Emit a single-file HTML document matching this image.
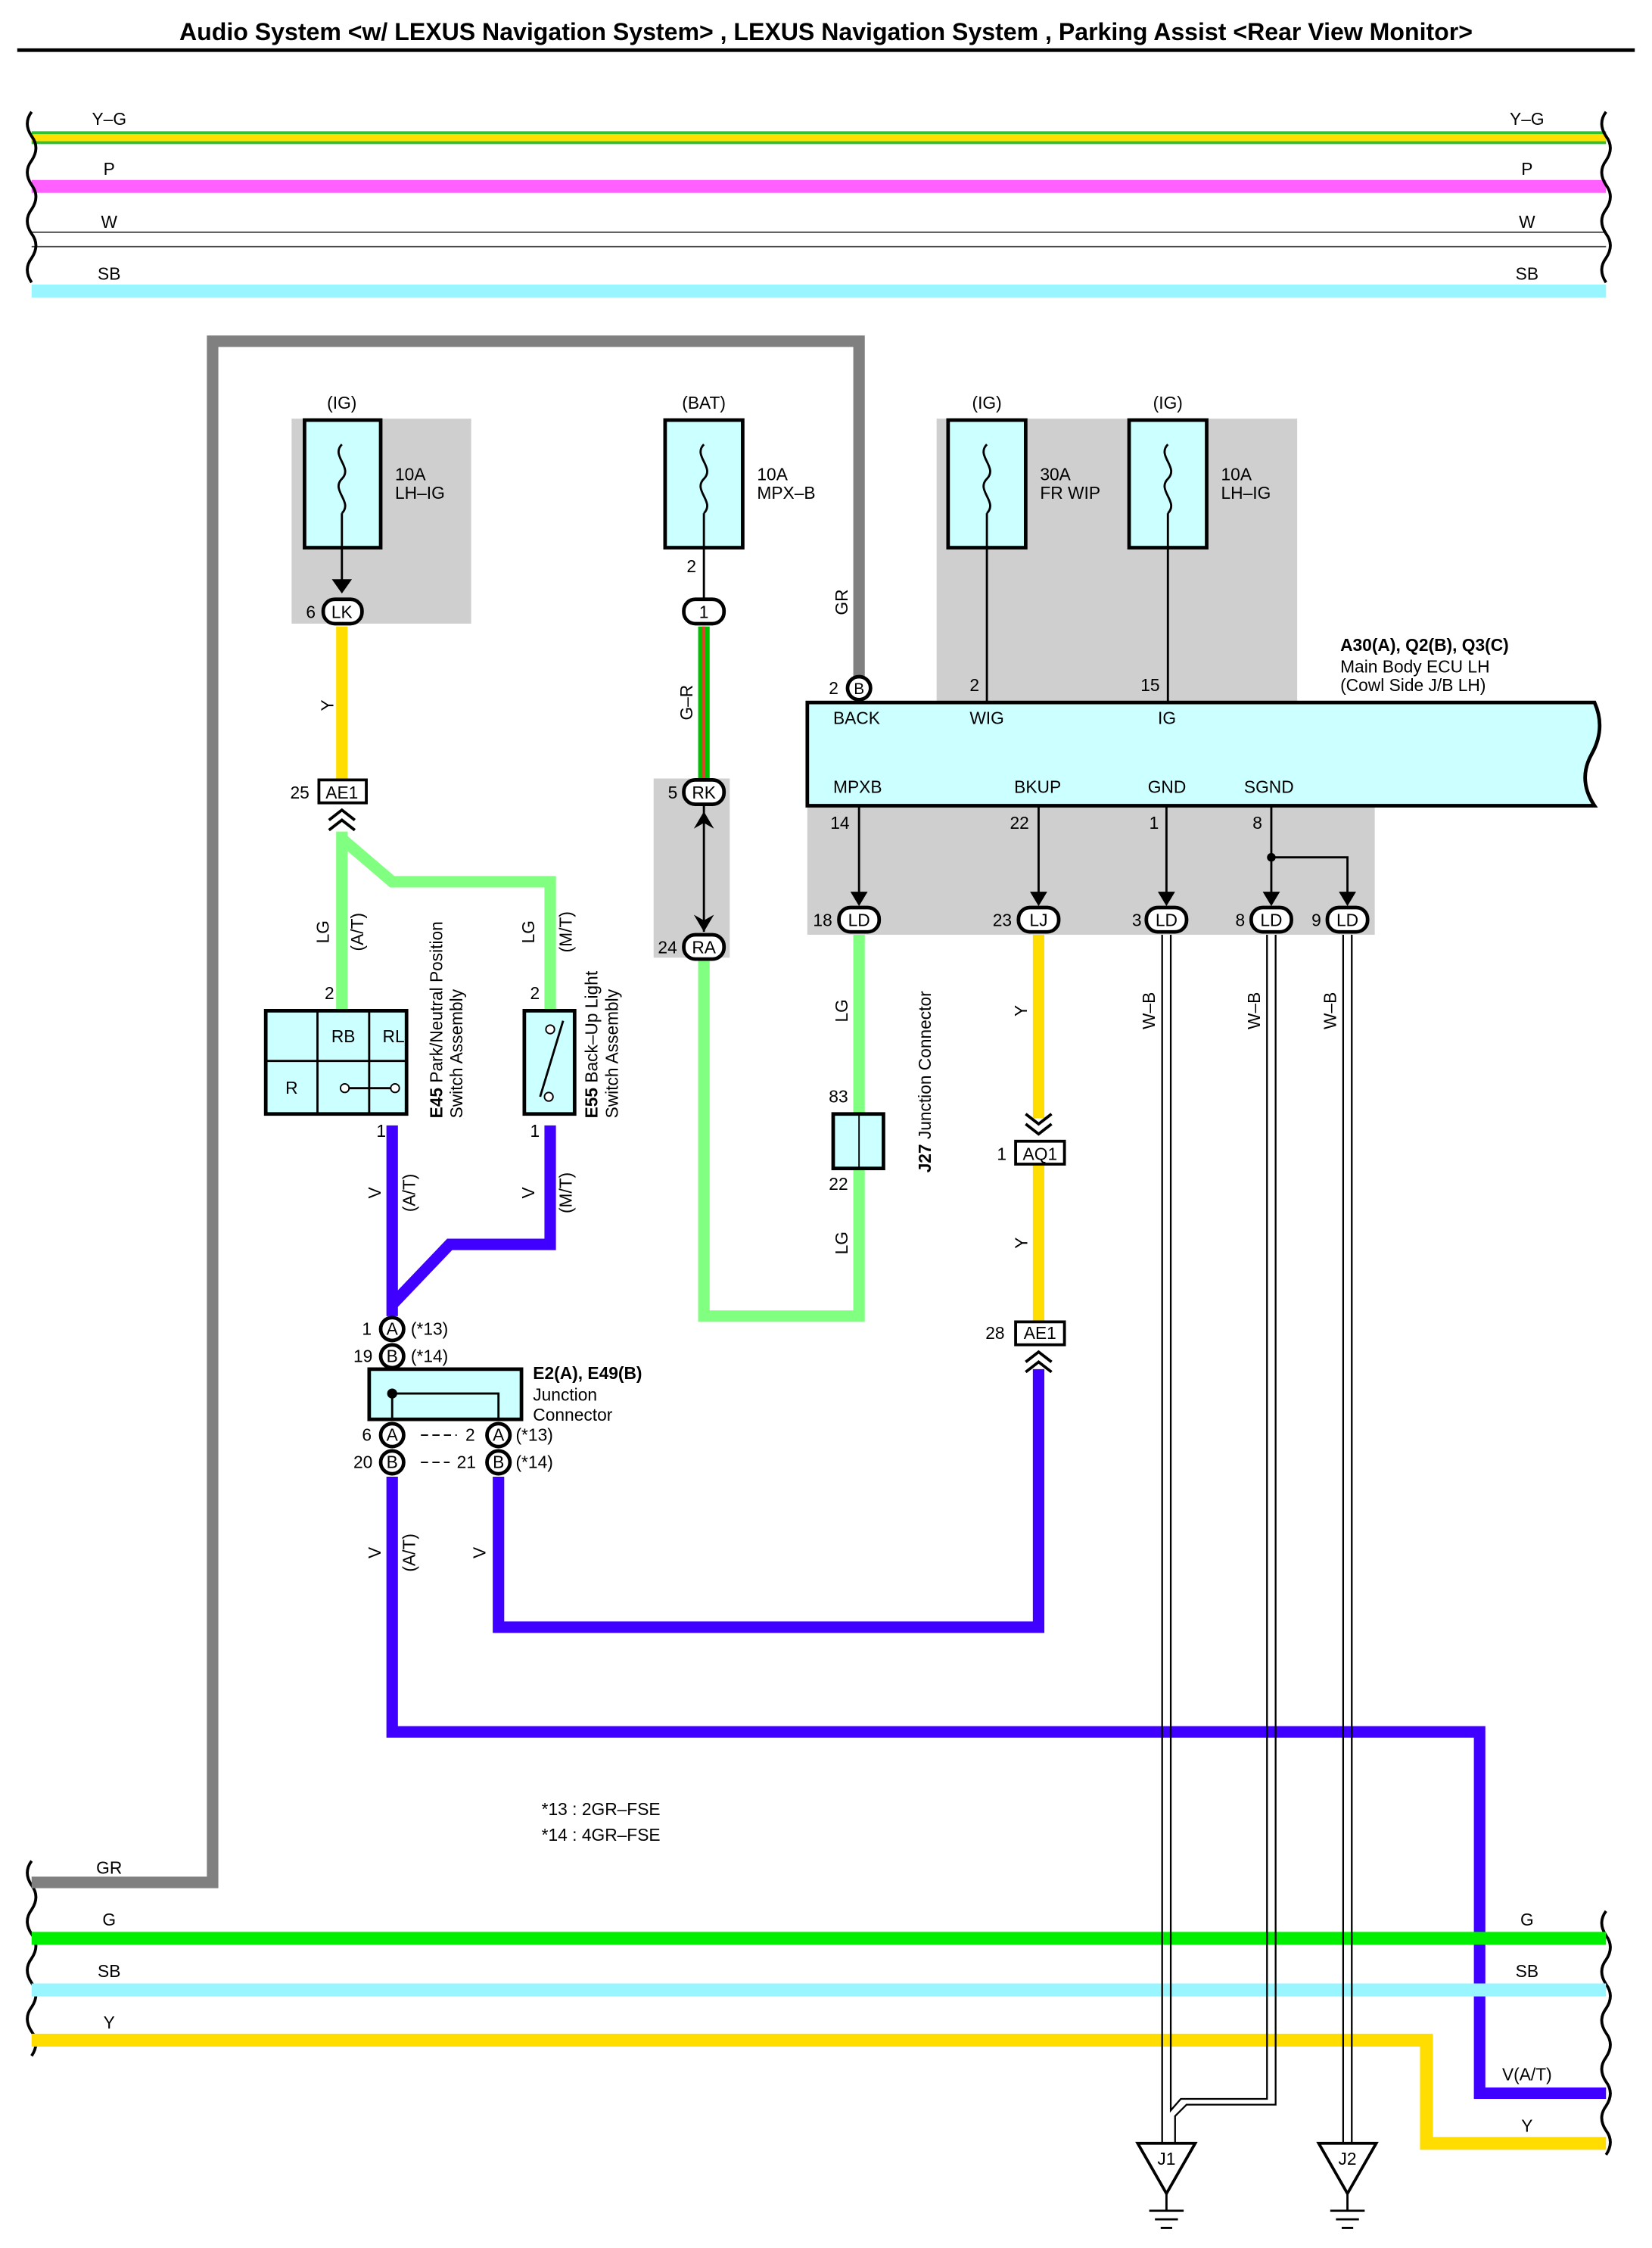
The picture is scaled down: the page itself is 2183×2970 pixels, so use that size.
<!DOCTYPE html>
<html><head><meta charset="utf-8"><style>html,body{margin:0;padding:0;background:#fff}svg{display:block}text{font-family:"Liberation Sans",sans-serif;font-size:12px;fill:#000}</style></head><body>
<svg width="2183" height="2970" viewBox="0 0 1150 1568" preserveAspectRatio="none" xmlns="http://www.w3.org/2000/svg">
<text x="575" y="28" text-anchor="middle" style="font-size:16.9px;font-weight:bold">Audio System &lt;w/ LEXUS Navigation System&gt; , LEXUS Navigation System , Parking Assist &lt;Rear View Monitor&gt;</text>
<line x1="12" y1="35" x2="1138" y2="35" stroke="#000" stroke-width="2.5"/>
<!-- top bus -->
<line x1="22" y1="96" x2="1118" y2="96" stroke="#30c030" stroke-width="9"/>
<line x1="22" y1="96" x2="1118" y2="96" stroke="#ffe000" stroke-width="5"/>
<line x1="22" y1="130" x2="1118" y2="130" stroke="#ff60ff" stroke-width="9"/>
<line x1="22" y1="162" x2="1118" y2="162" stroke="#444" stroke-width="1"/>
<line x1="22" y1="172" x2="1118" y2="172" stroke="#444" stroke-width="1"/>
<line x1="22" y1="203" x2="1118" y2="203" stroke="#99f5ff" stroke-width="9"/>
<g text-anchor="middle"><text x="76" y="87">Y–G</text><text x="76" y="122">P</text><text x="76" y="159">W</text><text x="76" y="195">SB</text>
<text x="1063" y="87">Y–G</text><text x="1063" y="122">P</text><text x="1063" y="159">W</text><text x="1063" y="195">SB</text>
<text x="76" y="1307">GR</text><text x="76" y="1343">G</text><text x="76" y="1379">SB</text><text x="76" y="1415">Y</text>
<text x="1063" y="1343">G</text><text x="1063" y="1379">SB</text><text x="1063" y="1451">V(A/T)</text><text x="1063" y="1487">Y</text></g>
<g fill="none" stroke="#000" stroke-width="2">
<path d="M22 78 q-6 8 0 17 q6 8 0 17 q-6 8 0 17 q6 8 0 17 q-6 8 0 17 q6 8 0 17 q-6 8 0 17"/>
<path d="M1118 78 q-6 8 0 17 q6 8 0 17 q-6 8 0 17 q6 8 0 17 q-6 8 0 17 q6 8 0 17 q-6 8 0 17"/>
<path d="M22 1298 q-6 8 0 17 q6 8 0 17 q-6 8 0 17 q6 8 0 17 q-6 8 0 17 q6 8 0 17 q-6 8 0 17 q6 8 0 17"/>
<path d="M1118 1333 q-6 8 0 17 q6 8 0 17 q-6 8 0 17 q6 8 0 17 q-6 8 0 17 q6 8 0 17 q-6 8 0 17 q6 8 0 17 q-6 8 0 17 q6 8 0 17"/>
</g>
<!-- gray bgs -->
<rect x="203" y="292" width="125" height="143" fill="#cfcfcf"/>
<rect x="652" y="292" width="251" height="198" fill="#cfcfcf"/>
<rect x="455" y="543" width="53" height="125" fill="#cfcfcf"/>
<rect x="562" y="562" width="395" height="90" fill="#cfcfcf"/>
<!-- GR -->
<path d="M598 472 V238 H148 V1313 H22" fill="none" stroke="#808080" stroke-width="8"/>
<text x="590" y="420" transform="rotate(-90 590 420)" text-anchor="middle">GR</text>
<!-- fuses -->
<g fill="#ccffff" stroke="#000" stroke-width="2.5">
<rect x="212" y="293" width="53" height="89"/><rect x="463" y="293" width="54" height="89"/>
<rect x="660" y="293" width="54" height="89"/><rect x="786" y="293" width="54" height="89"/></g>
<g fill="none" stroke="#000" stroke-width="1.5">
<path d="M238 310 c-8 8 8 16 0 24 c-8 8 8 16 0 24"/><path d="M490 310 c-8 8 8 16 0 24 c-8 8 8 16 0 24"/>
<path d="M687 310 c-8 8 8 16 0 24 c-8 8 8 16 0 24"/><path d="M813 310 c-8 8 8 16 0 24 c-8 8 8 16 0 24"/>
<line x1="238" y1="358" x2="238" y2="410"/><line x1="490" y1="358" x2="490" y2="420"/>
<line x1="687" y1="358" x2="687" y2="490"/><line x1="813" y1="358" x2="813" y2="490"/></g>
<g text-anchor="middle"><text x="238" y="285">(IG)</text><text x="490" y="285">(BAT)</text><text x="687" y="285">(IG)</text><text x="813" y="285">(IG)</text></g>
<text x="275" y="335">10A</text><text x="275" y="348">LH–IG</text>
<text x="527" y="335">10A</text><text x="527" y="348">MPX–B</text>
<text x="724" y="335">30A</text><text x="724" y="348">FR WIP</text>
<text x="850" y="335">10A</text><text x="850" y="348">LH–IG</text>
<path d="M231 404 l7 10 l7 -10 z" fill="#000"/>
<!-- LK -->
<line x1="238" y1="437" x2="238" y2="545" stroke="#ffdd00" stroke-width="8"/>
<g fill="#fff" stroke="#000" stroke-width="2.5"><rect x="225" y="418" width="27" height="17" rx="8"/><rect x="476" y="418" width="28" height="17" rx="8"/></g>
<text x="238" y="431" text-anchor="middle">LK</text><text x="213" y="431">6</text>
<text x="490" y="431" text-anchor="middle">1</text><text x="478" y="399">2</text>
<text x="232" y="492" transform="rotate(-90 232 492)" text-anchor="middle">Y</text>
<!-- LG -->
<g fill="none" stroke="#80ff80" stroke-width="8"><path d="M238 580 V705"/><path d="M238 585 L273 615 H383 V705"/>
<path d="M490 670 V918 H598 V815"/><path d="M598 652 V777"/></g>
<rect x="222" y="544" width="33" height="16" fill="#fff" stroke="#000" stroke-width="2"/><text x="238" y="557" text-anchor="middle">AE1</text><text x="202" y="557">25</text>
<path d="M229 572 l9 -7 l9 7 M229 579 l9 -7 l9 7" fill="none" stroke="#000" stroke-width="2"/>
<text x="229" y="650" transform="rotate(-90 229 650)" text-anchor="middle">LG</text><text x="253" y="650" transform="rotate(-90 253 650)" text-anchor="middle">(A/T)</text>
<text x="372" y="650" transform="rotate(-90 372 650)" text-anchor="middle">LG</text><text x="398" y="650" transform="rotate(-90 398 650)" text-anchor="middle">(M/T)</text>
<text x="226" y="697">2</text><text x="369" y="697">2</text>
<!-- E45 -->
<rect x="185" y="705" width="98" height="72" fill="#ccffff" stroke="#000" stroke-width="2.5"/>
<g stroke="#000" stroke-width="1.5" fill="none"><line x1="221" y1="705" x2="221" y2="777"/><line x1="257" y1="705" x2="257" y2="777"/><line x1="185" y1="740" x2="283" y2="740"/><line x1="240" y1="759" x2="275" y2="759"/></g>
<circle cx="240" cy="759" r="3" fill="#fff" stroke="#000"/><circle cx="275" cy="759" r="3" fill="#fff" stroke="#000"/>
<text x="239" y="727" text-anchor="middle">RB</text><text x="274" y="727" text-anchor="middle">RL</text><text x="203" y="763" text-anchor="middle">R</text>
<rect x="365" y="705" width="35" height="72" fill="#ccffff" stroke="#000" stroke-width="2.5"/>
<path d="M376 765 L392 712" stroke="#000" stroke-width="1.5"/><circle cx="382" cy="765" r="3" fill="#fff" stroke="#000"/><circle cx="383" cy="718" r="3" fill="#fff" stroke="#000"/>
<g style="font-size:12px"><text transform="translate(308 780) rotate(-90)"><tspan style="font-weight:bold">E45</tspan> Park/Neutral Position</text><text transform="translate(322 780) rotate(-90)">     Switch Assembly</text>
<text transform="translate(416 780) rotate(-90)"><tspan style="font-weight:bold">E55</tspan> Back–Up Light</text><text transform="translate(430 780) rotate(-90)">     Switch Assembly</text>
<text transform="translate(648 818) rotate(-90)"><tspan style="font-weight:bold">J27</tspan> Junction Connector</text></g>
<text x="262" y="793">1</text><text x="369" y="793">1</text>
<!-- V wires -->
<g fill="none" stroke="#4000ff" stroke-width="8"><path d="M273 785 V918"/><path d="M383 785 V868 H313 L273 910"/>
<path d="M273 1030 V1208 H1030 V1460 H1118"/><path d="M347 1030 V1135 H723 V955"/></g>
<text x="265" y="832" transform="rotate(-90 265 832)" text-anchor="middle">V</text><text x="289" y="832" transform="rotate(-90 289 832)" text-anchor="middle">(A/T)</text>
<text x="372" y="832" transform="rotate(-90 372 832)" text-anchor="middle">V</text><text x="398" y="832" transform="rotate(-90 398 832)" text-anchor="middle">(M/T)</text>
<text x="265" y="1083" transform="rotate(-90 265 1083)" text-anchor="middle">V</text><text x="289" y="1083" transform="rotate(-90 289 1083)" text-anchor="middle">(A/T)</text>
<text x="338" y="1083" transform="rotate(-90 338 1083)" text-anchor="middle">V</text>
<!-- E2 -->
<rect x="257" y="955" width="106" height="35" fill="#ccffff" stroke="#000" stroke-width="2.5"/>
<path d="M273 990 V972 H347 V990" fill="none" stroke="#000" stroke-width="1.5"/><circle cx="273" cy="972" r="3.5" fill="#000"/>
<g fill="#fff" stroke="#000" stroke-width="2.5"><circle cx="273" cy="927" r="8"/><circle cx="273" cy="946" r="8"/><circle cx="273" cy="1001" r="8"/><circle cx="273" cy="1020" r="8"/><circle cx="347" cy="1001" r="8"/><circle cx="347" cy="1020" r="8"/></g>
<g text-anchor="middle" style="font-size:11px"><text x="273" y="931">A</text><text x="273" y="950">B</text><text x="273" y="1005">A</text><text x="273" y="1024">B</text><text x="347" y="1005">A</text><text x="347" y="1024">B</text></g>
<text x="252" y="931">1</text><text x="246" y="950">19</text><text x="252" y="1005">6</text><text x="246" y="1024">20</text><text x="324" y="1005">2</text><text x="318" y="1024">21</text>
<text x="286" y="931">(*13)</text><text x="286" y="950">(*14)</text><text x="359" y="1005">(*13)</text><text x="359" y="1024">(*14)</text>
<path d="M293 1001 H318 M293 1020 H313" stroke="#000" stroke-dasharray="5 3"/>
<text x="371" y="962" style="font-weight:bold">E2(A), E49(B)</text><text x="371" y="977">Junction</text><text x="371" y="991">Connector</text>
<!-- G-R -->
<line x1="490" y1="437" x2="490" y2="545" stroke="#00c000" stroke-width="8"/><line x1="490" y1="437" x2="490" y2="545" stroke="#ff3030" stroke-width="2"/>
<text x="482" y="490" transform="rotate(-90 482 490)" text-anchor="middle">G–R</text>
<line x1="490" y1="562" x2="490" y2="650" stroke="#000" stroke-width="1.5"/>
<path d="M483 578 l7 -12 l7 12 l-7 -4 z M483 638 l7 12 l7 -12 l-7 4 z" fill="#000"/>
<g fill="#fff" stroke="#000" stroke-width="2.5"><rect x="476" y="544" width="28" height="17" rx="8"/><rect x="476" y="652" width="28" height="17" rx="8"/></g>
<text x="490" y="557" text-anchor="middle">RK</text><text x="465" y="557">5</text><text x="490" y="665" text-anchor="middle">RA</text><text x="458" y="665">24</text>
<!-- J27 -->
<rect x="580" y="777" width="35" height="38" fill="#ccffff" stroke="#000" stroke-width="2.5"/><line x1="598" y1="777" x2="598" y2="815" stroke="#000"/>
<text x="577" y="769">83</text><text x="577" y="830">22</text>
<text x="590" y="705" transform="rotate(-90 590 705)" text-anchor="middle">LG</text><text x="590" y="867" transform="rotate(-90 590 867)" text-anchor="middle">LG</text>
<!-- ECU -->
<path d="M562 490 H1110 q8 18 -2 36 q-10 18 2 36 H562 Z" fill="#ccffff" stroke="#000" stroke-width="2.5"/>
<text x="933" y="454" style="font-weight:bold">A30(A), Q2(B), Q3(C)</text><text x="933" y="469">Main Body ECU LH</text><text x="933" y="482">(Cowl Side J/B LH)</text>
<circle cx="598" cy="480" r="8" fill="#fff" stroke="#000" stroke-width="2.5"/><text x="598" y="484" text-anchor="middle" style="font-size:11px">B</text><text x="577" y="484">2</text>
<text x="675" y="482">2</text><text x="794" y="482">15</text>
<text x="580" y="505">BACK</text><text x="675" y="505">WIG</text><text x="806" y="505">IG</text>
<text x="580" y="553">MPXB</text><text x="706" y="553">BKUP</text><text x="799" y="553">GND</text><text x="866" y="553">SGND</text>
<text x="578" y="578">14</text><text x="703" y="578">22</text><text x="800" y="578">1</text><text x="872" y="578">8</text>
<g stroke="#000" stroke-width="1.5" fill="none"><path d="M598 562 V630"/><path d="M723 562 V630"/><path d="M812 562 V630"/><path d="M885 562 V630 M885 598 H938 V630"/></g>
<circle cx="885" cy="598" r="3" fill="#000"/>
<g fill="#000"><path d="M592 622 l6 10 l6 -10z"/><path d="M717 622 l6 10 l6 -10z"/><path d="M806 622 l6 10 l6 -10z"/><path d="M879 622 l6 10 l6 -10z"/><path d="M932 622 l6 10 l6 -10z"/></g>
<!-- Y wire -->
<line x1="723" y1="652" x2="723" y2="780" stroke="#ffdd00" stroke-width="8"/><line x1="723" y1="812" x2="723" y2="922" stroke="#ffdd00" stroke-width="8"/>
<text x="715" y="705" transform="rotate(-90 715 705)" text-anchor="middle">Y</text><text x="715" y="867" transform="rotate(-90 715 867)" text-anchor="middle">Y</text>
<path d="M714 777 l9 7 l9 -7 M714 784 l9 7 l9 -7" fill="none" stroke="#000" stroke-width="2"/>
<rect x="707" y="796" width="34" height="16" fill="#fff" stroke="#000" stroke-width="2"/><text x="724" y="809" text-anchor="middle">AQ1</text><text x="694" y="809">1</text>
<rect x="707" y="922" width="34" height="16" fill="#fff" stroke="#000" stroke-width="2"/><text x="724" y="934" text-anchor="middle">AE1</text><text x="686" y="934">28</text>
<path d="M714 950 l9 -7 l9 7 M714 957 l9 -7 l9 7" fill="none" stroke="#000" stroke-width="2"/>
<!-- bottom bus -->
<line x1="22" y1="1352" x2="1118" y2="1352" stroke="#00ee00" stroke-width="9"/>
<line x1="22" y1="1388" x2="1118" y2="1388" stroke="#99f5ff" stroke-width="9"/>
<path d="M22 1423 H993 V1495 H1118" fill="none" stroke="#ffdd00" stroke-width="9"/>
<!-- W-B -->
<g fill="none" stroke="#000" stroke-width="1.2">
<path d="M809 652 V1495 M815 652 V1472 L822 1464 H882 V652"/><path d="M888 652 V1468 H826 L818 1476 V1495"/>
<path d="M935 652 V1495 M941 652 V1495"/></g>
<text x="804" y="705" transform="rotate(-90 804 705)" text-anchor="middle">W–B</text><text x="877" y="705" transform="rotate(-90 877 705)" text-anchor="middle">W–B</text><text x="930" y="705" transform="rotate(-90 930 705)" text-anchor="middle">W–B</text>
<g fill="#fff" stroke="#000" stroke-width="2.5"><rect x="584" y="633" width="28" height="17" rx="8"/><rect x="709" y="633" width="28" height="17" rx="8"/><rect x="798" y="633" width="28" height="17" rx="8"/><rect x="871" y="633" width="28" height="17" rx="8"/><rect x="924" y="633" width="28" height="17" rx="8"/></g>
<g text-anchor="middle"><text x="598" y="646">LD</text><text x="723" y="646">LJ</text><text x="812" y="646">LD</text><text x="885" y="646">LD</text><text x="938" y="646">LD</text></g>
<text x="566" y="646">18</text><text x="691" y="646">23</text><text x="788" y="646">3</text><text x="860" y="646">8</text><text x="913" y="646">9</text>
<!-- grounds -->
<g fill="#fff" stroke="#000" stroke-width="2"><path d="M792 1495 H832 L812 1530 Z"/><path d="M918 1495 H958 L938 1530 Z"/></g>
<g stroke="#000" stroke-width="1.5"><path d="M812 1530 V1542 M800 1542 H824 M804 1548 H820 M808 1554 H816"/><path d="M938 1530 V1542 M926 1542 H950 M930 1548 H946 M934 1554 H942"/></g>
<text x="812" y="1510" text-anchor="middle">J1</text><text x="938" y="1510" text-anchor="middle">J2</text>
<text x="377" y="1266">*13 : 2GR–FSE</text><text x="377" y="1284">*14 : 4GR–FSE</text>
</svg>
</body></html>
